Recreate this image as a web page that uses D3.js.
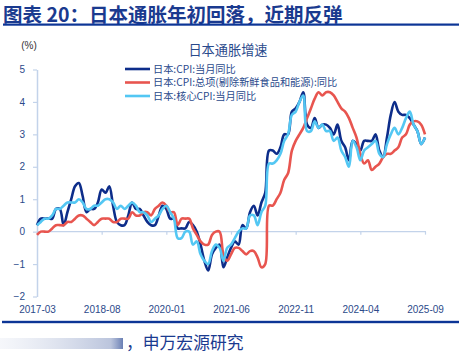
<!DOCTYPE html>
<html><head><meta charset="utf-8">
<script src="https://cdn.jsdelivr.net/npm/d3@7"></script>
<style>
html,body{margin:0;padding:0;background:#fff;}
svg{display:block;font-family:"Liberation Sans","Noto Sans CJK SC",sans-serif;}
</style></head>
<body><svg id="c" width="459" height="356"></svg>
<script>
const startYear = 2017, startMonth = 3;
const tickLabels = ["2017-03","2018-08","2020-01","2021-06","2022-11","2024-04","2025-09"];
const yTicks = [-2,-1,0,1,2,3,4,5];
const seriesNames = ["日本:CPI:当月同比","日本:CPI:总项(剔除新鲜食品和能源):同比","日本:核心CPI:当月同比"];
const headline = [
 0.2,0.4,0.4,0.4,0.4,0.7,0.7,0.2,0.6,1.0,
 1.4,1.5,1.1,0.6,0.7,0.7,0.9,1.3,1.2,1.4,0.8,0.3,
 0.2,0.2,0.5,0.9,0.7,0.7,0.5,0.3,0.2,0.2,0.5,0.8,
 0.7,0.4,0.4,0.1,0.1,0.1,0.3,0.2,0.0,-0.4,-0.9,-1.2,
 -0.7,-0.5,-0.4,-1.1,-0.8,-0.5,-0.3,-0.4,0.2,0.1,0.6,0.8,
 0.5,0.9,1.2,2.5,2.5,2.4,2.6,3.0,3.0,3.7,3.8,4.0,
 4.3,3.3,3.2,3.5,3.2,3.3,3.3,3.2,3.0,3.3,2.8,2.6,
 2.2,2.8,2.7,2.5,2.8,2.8,2.8,3.0,2.5,2.3,2.9,3.6,
 4.0,3.7,3.6,3.6,3.5,3.3,3.1,2.7,2.9];
const coreCore = [
 -0.1,0.0,0.0,0.0,0.1,0.2,0.2,0.2,0.3,0.3,
 0.4,0.5,0.5,0.4,0.3,0.2,0.3,0.4,0.4,0.4,0.3,0.3,
 0.4,0.4,0.4,0.6,0.5,0.5,0.6,0.6,0.5,0.7,0.8,0.9,
 0.8,0.6,0.6,0.2,0.4,0.4,0.4,0.1,-0.1,-0.3,-0.4,-0.4,
 -0.1,0.0,0.0,-0.7,-0.9,-0.7,-0.5,-0.5,-0.6,-0.7,-0.6,-0.6,
 -0.8,-1.1,-1.0,0.8,0.8,1.0,1.2,1.6,1.8,2.5,2.8,3.0,
 3.2,3.5,3.8,4.1,4.3,4.2,4.3,4.3,4.2,4.0,3.8,3.7,
 3.5,3.2,2.9,2.4,2.1,2.2,1.9,2.0,2.1,2.3,2.4,2.4,
 2.5,2.6,2.9,3.0,3.3,3.4,3.4,3.3,3.0];
const core = [
 0.2,0.3,0.4,0.4,0.5,0.7,0.7,0.8,0.9,0.9,
 0.9,1.0,0.9,0.7,0.7,0.8,0.8,0.9,1.0,1.0,0.9,0.7,
 0.8,0.7,0.8,0.9,0.8,0.6,0.6,0.5,0.3,0.4,0.5,0.7,
 0.8,0.6,0.4,-0.2,-0.2,0.0,0.0,-0.4,-0.3,-0.7,-0.9,-1.0,
 -0.6,-0.4,-0.5,-0.9,-0.5,-0.4,-0.2,0.0,0.1,0.1,0.5,0.5,
 0.2,0.6,0.8,2.1,2.1,2.2,2.4,2.8,3.0,3.6,3.7,4.0,
 4.2,3.1,3.1,3.4,3.2,3.3,3.1,3.1,2.8,2.9,2.5,2.3,
 2.0,2.8,2.6,2.2,2.5,2.6,2.7,2.8,2.4,2.3,2.7,3.0,
 3.2,3.0,3.2,3.5,3.7,3.3,3.1,2.7,2.9];

const months = headline.map((_, i) => {
  const t = startMonth - 1 + i;
  const y = startYear + Math.floor(t / 12), m = t % 12 + 1;
  return y + "-" + String(m).padStart(2, "0");
});

const svg = d3.select("#c");
const blue = "#1a3a8f", tickCol = "#2c4a8a", axisCol = "#c3d3ea";

// header
svg.append("text").attr("x",3).attr("y",21.5)
  .attr("font-family","'Noto Sans CJK SC',sans-serif").attr("font-weight","bold")
  .attr("font-size",19.5).attr("fill",blue).text("图表 20：日本通胀年初回落，近期反弹");
svg.append("rect").attr("x",3).attr("y",23.5).attr("width",456).attr("height",2.2).attr("fill","#0c3596");
svg.append("rect").attr("x",2).attr("y",320.8).attr("width",457).attr("height",2.4).attr("fill","#0c3596");

const x = d3.scalePoint().domain(months).range([37, 425]);
const y = d3.scaleLinear().domain([-2, 5]).range([296.5, 69.5]);

// y axis
const ya = svg.append("g").attr("transform","translate(37,0)")
  .call(d3.axisLeft(y).tickValues(yTicks).tickFormat(d3.format("d")).tickSize(4).tickSizeOuter(0).tickPadding(8));
ya.select(".domain").attr("stroke",axisCol).attr("stroke-width",1.5);
ya.selectAll(".tick line").attr("stroke",axisCol).attr("stroke-width",1.2);
ya.selectAll("text").attr("fill",tickCol).attr("font-size",10);

// x axis at zero line
const xa = svg.append("g").attr("transform",`translate(0,${y(0)})`)
  .call(d3.axisBottom(x).tickValues(tickLabels).tickSize(3).tickSizeOuter(0));
xa.select(".domain").attr("stroke",axisCol).attr("stroke-width",1.2)
  .attr("d",`M37,0H426`);
xa.selectAll(".tick line").attr("stroke",axisCol).attr("stroke-width",1.2);
xa.selectAll("text").attr("fill",tickCol).attr("font-size",10)
  .attr("y", 309.5 - y(0)).attr("dy","0.35em");

// unit
svg.append("text").attr("x",29).attr("y",48.5).attr("text-anchor","middle")
  .attr("font-size",10).attr("fill","#333").text("(%)");
// chart title
svg.append("text").attr("x",228).attr("y",55).attr("text-anchor","middle")
  .attr("font-family","'Noto Sans CJK SC',sans-serif")
  .attr("font-size",13.2).attr("fill","#2a4a8c").text("日本通胀增速");

const line = d3.line().x((d,i) => x(months[i])).y(d => y(d)).curve(d3.curveCatmullRom.alpha(0.5));
const colors = ["#0d2d8a","#e8554f","#53c7f3"];
const data = [headline, coreCore, core];
[0,1,2].forEach(k => {
  svg.append("path").datum(data[k]).attr("d", line).attr("fill","none")
    .attr("stroke", colors[k]).attr("stroke-width", 2.6).attr("stroke-linejoin","round");
});

// legend
const ly = [69, 82.5, 96];
seriesNames.forEach((n, k) => {
  svg.append("line").attr("x1",125).attr("x2",150).attr("y1",ly[k]).attr("y2",ly[k])
    .attr("stroke",colors[k]).attr("stroke-width",2.6);
  svg.append("text").attr("x",153).attr("y",ly[k]).attr("dy","0.36em")
    .attr("font-family","'Noto Sans CJK SC',sans-serif")
    .attr("font-size",10.2).attr("fill","#2a4a8c").text(n);
});

// footer
const defs = svg.append("defs");
const g = defs.append("linearGradient").attr("id","fade");
g.append("stop").attr("offset","0").attr("stop-color","#dfe4f0").attr("stop-opacity",0.3);
g.append("stop").attr("offset","0.9").attr("stop-color","#aab6d4").attr("stop-opacity",0.8);
g.append("stop").attr("offset","1").attr("stop-color","#6a7fb4").attr("stop-opacity",1);
svg.append("rect").attr("x",0).attr("y",338).attr("width",123).attr("height",11).attr("fill","url(#fade)");
svg.append("text").attr("x",126).attr("y",349)
  .attr("font-family","'Noto Sans CJK SC',sans-serif")
  .attr("font-size",16.8).attr("fill",blue).text("，申万宏源研究");
</script></body></html>
